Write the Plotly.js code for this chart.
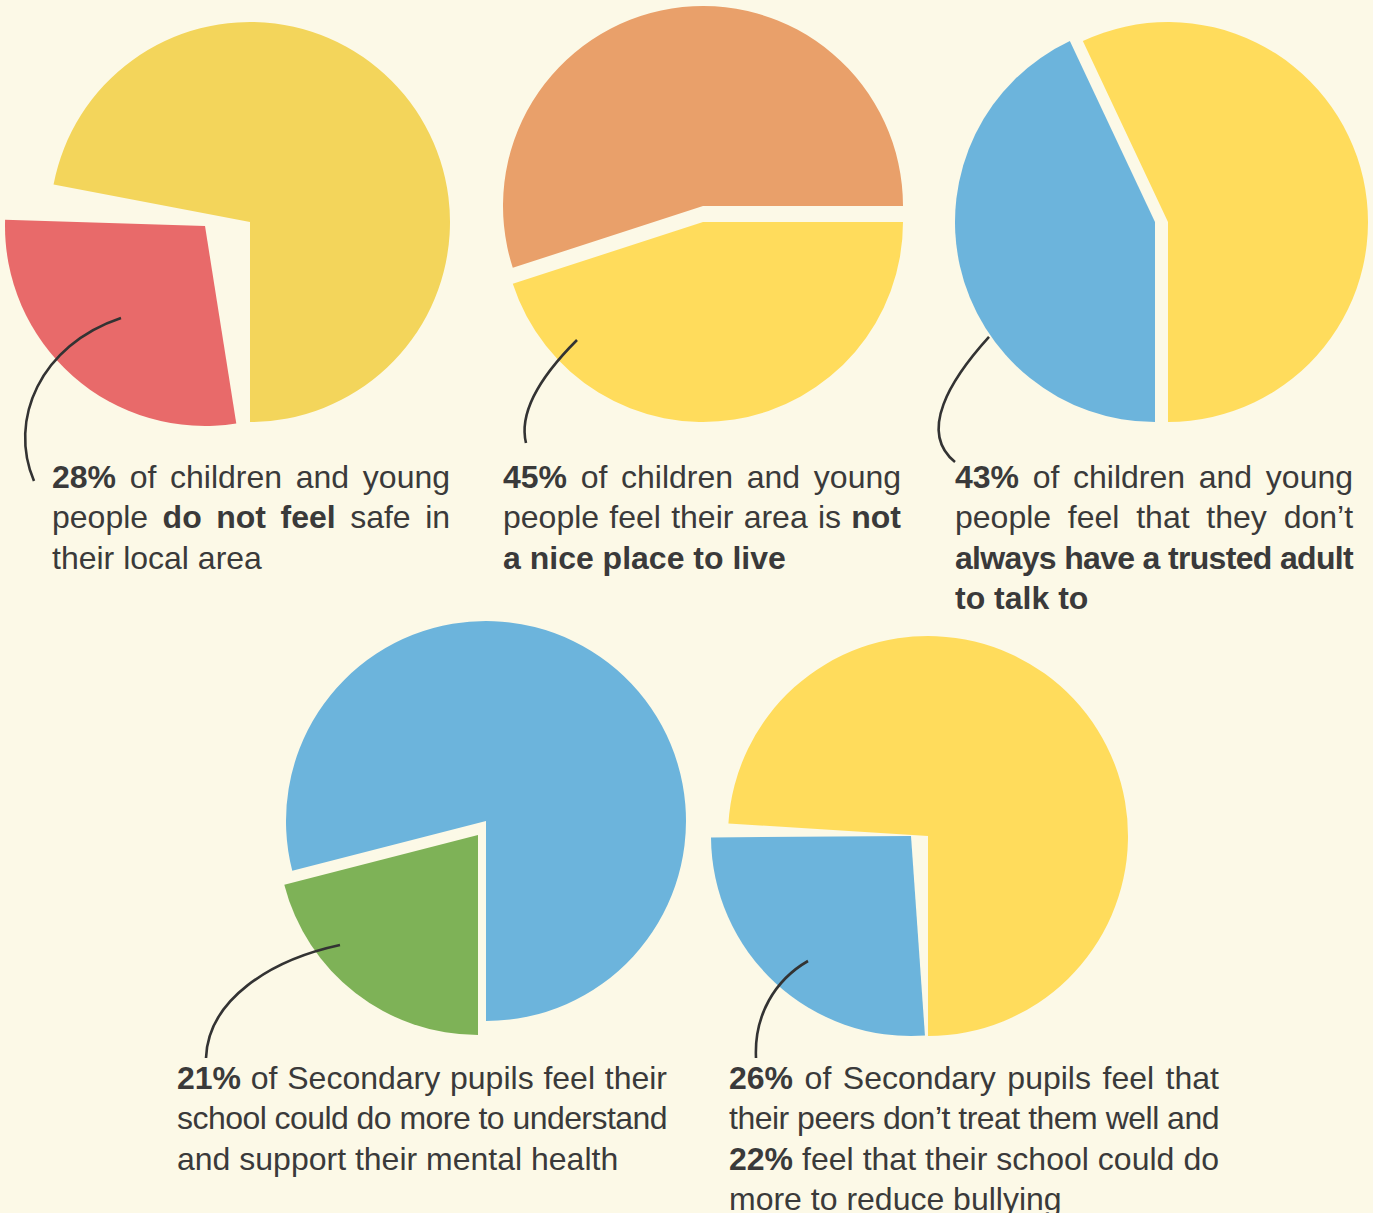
<!DOCTYPE html>
<html>
<head>
<meta charset="utf-8">
<script src="https://cdn.plot.ly/plotly-3.0.1.min.js"></script>
<style>
html,body{margin:0;padding:0;background:#FCF9E7;}
#chart{width:1373px;height:1213px;}
</style>
</head>
<body>
<div id="chart"></div>
<script>
// ---- data ----
const pie1Labels = ["Do not feel safe", "Feel safe"];
const pie1Values = [28, 72];
const pie2Labels = ["Not a nice place to live", "Nice place to live"];
const pie2Values = [45, 55];
const pie3Labels = ["No trusted adult always", "Trusted adult"];
const pie3Values = [43, 57];
const pie4Labels = ["School could do more", "Other"];
const pie4Values = [21, 79];
const pie5Labels = ["Peers don't treat them well", "Other"];
const pie5Values = [26, 74];

const text1 = ["<b>28%</b> of children and young", "people <b>do not feel</b> safe in", "their local area"];
const text2 = ["<b>45%</b> of children and young", "people feel their area is <b>not</b>", "<b>a nice place to live</b>"];
const text3 = ["<b>43%</b> of children and young", "people feel that they don\u2019t", "<b>always have a trusted adult</b>", "<b>to talk to</b>"];
const text4 = ["<b>21%</b> of Secondary pupils feel their", "school could do more to understand", "and support their mental health"];
const text5 = ["<b>26%</b> of Secondary pupils feel that", "their peers don\u2019t treat them well and", "<b>22%</b> feel that their school could do", "more to reduce bullying"];

// ---- layout helpers ----
const W = 1373, H = 1213;
const px = x => x / W;
const py = y => 1 - y / H;
const NONE = 'rgba(0,0,0,0)';

function slice(labels, values, colorIdx, color, cx, cy, r, rot) {
  const colors = values.map((v, i) => i === colorIdx ? color : NONE);
  return {
    type: 'pie', labels: labels, values: values, sort: false,
    direction: 'clockwise', rotation: rot,
    marker: {colors: colors, line: {width: 0}},
    textinfo: 'none', hoverinfo: 'skip', showlegend: false,
    domain: {x: [px(cx - r), px(cx + r)], y: [py(cy + r), py(cy - r)]}
  };
}

const R = 200;
const traces = [
  slice(pie1Labels, pie1Values, 1, '#F3D55B', 250, 222, R, 180),
  slice(pie1Labels, pie1Values, 0, '#E86A6A', 205, 226, R, 171),
  slice(pie2Labels, pie2Values, 0, '#FFDC5C', 703, 222, R, 90),
  slice(pie2Labels, pie2Values, 1, '#E9A06A', 703, 206, R, 90),
  slice(pie3Labels, pie3Values, 0, '#6CB4DC', 1155, 222, R, 180),
  slice(pie3Labels, pie3Values, 1, '#FFDC5C', 1168, 222, R, 180),
  slice(pie4Labels, pie4Values, 1, '#6CB4DC', 486, 821, R, 180),
  slice(pie4Labels, pie4Values, 0, '#7EB257', 478, 835, R, 180),
  slice(pie5Labels, pie5Values, 1, '#FFDC5C', 928, 836, R, 180),
  slice(pie5Labels, pie5Values, 0, '#6CB4DC', 911, 836, R, 176)
];

// connector curves (pixel coordinates converted to paper)
function curve(pts) {
  const p = pts.map(([x, y]) => px(x).toFixed(5) + ',' + py(y).toFixed(5));
  return {type: 'path', xref: 'paper', yref: 'paper',
    path: 'M' + p[0] + ' C' + p[1] + ' ' + p[2] + ' ' + p[3],
    line: {color: '#333333', width: 2.6}};
}
const shapes = [
  curve([[121, 318], [40, 345], [8, 420], [34, 481]]),
  curve([[577, 340], [545, 372], [518, 410], [526, 443]]),
  curve([[989, 337], [950, 380], [918, 432], [955, 462]]),
  curve([[340, 945], [270, 960], [208, 1000], [206, 1058]]),
  curve([[808, 961], [775, 980], [754, 1015], [756, 1058]])
];

// paragraphs
const paras = [
  {lines: text1, x: 52, w: 398, y0: 477},
  {lines: text2, x: 503, w: 398, y0: 477},
  {lines: text3, x: 955, w: 398, y0: 477},
  {lines: text4, x: 177, w: 490, y0: 1078},
  {lines: text5, x: 729, w: 490, y0: 1078}
];
const LH = 40.3;
const annotations = [];
const justify = [];
paras.forEach(p => {
  p.lines.forEach((t, i) => {
    annotations.push({
      text: t, xref: 'paper', yref: 'paper', x: px(p.x - 1), y: py(p.y0 + i * LH),
      xanchor: 'left', yanchor: 'middle', align: 'left', showarrow: false,
      borderpad: 0,
      font: {family: 'Liberation Sans, Arial, sans-serif', size: 32, color: '#3A3A3A'}
    });
    justify.push(i < p.lines.length - 1 ? p.w : null);
  });
});

const layout = {
  width: W, height: H,
  margin: {l: 0, r: 0, t: 0, b: 0},
  paper_bgcolor: '#FCF9E7', plot_bgcolor: '#FCF9E7',
  showlegend: false,
  shapes: shapes,
  annotations: annotations
};

Plotly.newPlot('chart', traces, layout, {staticPlot: true, displayModeBar: false}).then(() => {
  justify.forEach((target, i) => {
    if (!target) return;
    const el = document.querySelector('.annotation[data-index="' + i + '"] text.annotation-text');
    if (!el) return;
    const len = el.getComputedTextLength();
    const txt = el.textContent;
    const spaces = (txt.match(/ /g) || []).length;
    const delta = target - len;
    if (delta >= 0) {
      if (spaces > 0) el.setAttribute('word-spacing', (delta / spaces).toFixed(2));
    } else {
      el.setAttribute('letter-spacing', (delta / txt.length).toFixed(3));
    }
  });
});
</script>
</body>
</html>
